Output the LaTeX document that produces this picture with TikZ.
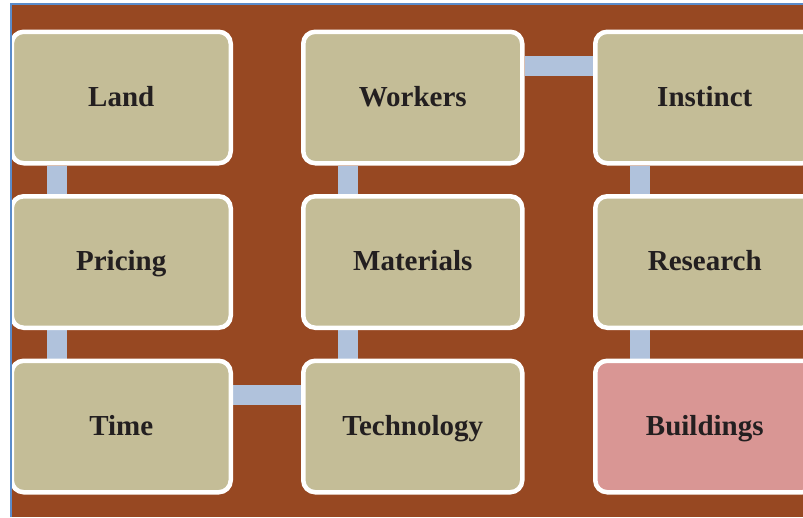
\documentclass[tikz,border=0pt]{standalone}
\usepackage{fontspec}
\setmainfont{Liberation Serif}
\usetikzlibrary{backgrounds}
\definecolor{bgbrown}{HTML}{974822}
\definecolor{boxtan}{HTML}{C4BD97}
\definecolor{boxpink}{HTML}{D99694}
\definecolor{barblue}{HTML}{B0C2DC}
\definecolor{frameblue}{HTML}{5B8CCB}
\definecolor{txt}{HTML}{231F20}
\tikzset{
  stepbox/.style={rectangle, rounded corners=12pt, draw=white, line width=4.5pt,
    fill=boxtan, minimum width=219pt, minimum height=131.5pt, inner sep=0pt,
    text height=20pt, text depth=3pt,
    text=txt, font=\fontsize{29}{33}\selectfont\bfseries},
  lastbox/.style={stepbox, fill=boxpink},
  bar/.style={draw=barblue, line width=20pt},
  frame/.style={draw=frameblue, line width=1.5pt}
}
\begin{document}
\begin{tikzpicture}[x=1pt,y=-1pt]
\useasboundingbox (0,0) rectangle (803,517);
\begin{scope}
\clip (11,4) rectangle (803,517);
\node[stepbox] (land) at (121.25,97.5) {Land};
\node[stepbox] (pricing) at (121.25,262) {Pricing};
\node[stepbox] (time) at (121.25,426.5) {Time};
\node[stepbox] (tech) at (412.75,426.5) {Technology};
\node[stepbox] (mat) at (412.75,262) {Materials};
\node[stepbox] (work) at (412.75,97.5) {Workers};
\node[stepbox] (inst) at (704.75,97.5) {Instinct};
\node[stepbox] (res) at (704.75,262) {Research};
\node[lastbox] (build) at (704.75,426.5) {Buildings};
\end{scope}
\begin{scope}[on background layer]
\fill[white] (0,0) rectangle (803,517);
\begin{scope}
\clip (11,4) rectangle (803,517);
\fill[bgbrown] (11,4) rectangle (803,517);
\draw[bar] ([xshift=47pt]land.south west) -- ([xshift=47pt]pricing.north west);
\draw[bar] ([xshift=47pt]pricing.south west) -- ([xshift=47pt]time.north west);
\draw[bar] ([yshift=-36pt]time.north east) -- ([yshift=-36pt]tech.north west);
\draw[bar] ([xshift=47pt]tech.north west) -- ([xshift=47pt]mat.south west);
\draw[bar] ([xshift=47pt]mat.north west) -- ([xshift=47pt]work.south west);
\draw[bar] ([yshift=-36pt]work.north east) -- ([yshift=-36pt]inst.north west);
\draw[bar] ([xshift=47pt]inst.south west) -- ([xshift=47pt]res.north west);
\draw[bar] ([xshift=47pt]res.south west) -- ([xshift=47pt]build.north west);
\end{scope}
\end{scope}
\coordinate (fbl) at (11,517);
\coordinate (ftl) at (11,4);
\coordinate (ftr) at (803,4);
\draw[frame] (fbl) -- (ftl) -- (ftr);
\end{tikzpicture}
\end{document}
